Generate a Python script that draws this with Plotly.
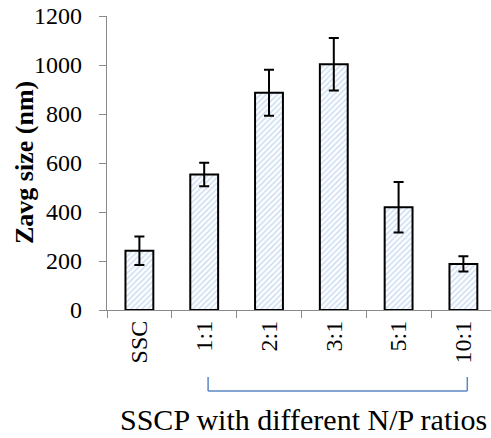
import plotly.graph_objects as go

categories = ["SSC", "1:1", "2:1", "3:1", "5:1", "10:1"]
values = [242, 553, 887, 1003, 419, 188]
errors = [58, 48, 94, 107, 103, 31]
y_ticks = [0, 200, 400, 600, 800, 1000, 1200]

FONT = "Liberation Serif, Times New Roman, serif"
AXIS_GRAY = "#8a8a8a"

fig = go.Figure()
fig.add_trace(go.Bar(
    x=categories,
    y=values,
    width=0.43,
    marker=dict(
        color="white",
        line=dict(color="black", width=2),
        pattern=dict(shape="/", fgcolor="#9dbde6", bgcolor="white", size=4, solidity=0.4),
    ),
    error_y=dict(type="data", array=errors, visible=True, color="black", thickness=2, width=5),
))

W, H = 491, 438
L, T, B = 107, 16, 128
plot_h = H - T - B
plot_w = W - L
cat_w = 64.8

fig.update_layout(
    width=W, height=H,
    margin=dict(l=L, r=0, t=T, b=B, pad=0),
    paper_bgcolor="white", plot_bgcolor="white",
    showlegend=False,
    font=dict(family=FONT, color="black", size=24),
    xaxis=dict(
        type="category",
        range=[-0.5, -0.5 + plot_w / cat_w],
        showline=True, linecolor=AXIS_GRAY, linewidth=1.3,
        ticks="outside", tickson="boundaries", ticklen=7, tickcolor=AXIS_GRAY, tickwidth=1.3,
        tickangle=-90, tickfont=dict(family=FONT, size=24, color="black"),
        showgrid=False, zeroline=False,
    ),
    yaxis=dict(
        range=[0, 1200], tickvals=y_ticks,
        showline=True, linecolor=AXIS_GRAY, linewidth=1.3,
        ticks="outside", ticklen=7, tickcolor=AXIS_GRAY, tickwidth=1.3,
        tickfont=dict(family=FONT, size=24, color="black"),
        ticklabelstandoff=12,
        showgrid=False, zeroline=False,
    ),
)

# y-axis title
fig.add_annotation(
    text="<b>Zavg size (nm)</b>", textangle=-90,
    xref="paper", yref="paper",
    x=(24 - L) / plot_w, y=0.5, xanchor="center", yanchor="middle",
    showarrow=False, font=dict(family=FONT, size=26, color="black"),
)

# bracket under N/P ratio categories
y_top = -(377 - (T + plot_h)) / plot_h
y_bot = -(391 - (T + plot_h)) / plot_h
x1, x2 = 1.06, 5.06
fig.add_shape(type="line", xref="x", yref="paper", x0=x1, x1=x1, y0=y_top, y1=y_bot,
              line=dict(color="#5b87c5", width=1.5))
fig.add_shape(type="line", xref="x", yref="paper", x0=x1, x1=x2, y0=y_bot, y1=y_bot,
              line=dict(color="#5b87c5", width=1.5))
fig.add_shape(type="line", xref="x", yref="paper", x0=x2, x1=x2, y0=y_bot, y1=y_top,
              line=dict(color="#5b87c5", width=1.5))

fig.add_annotation(
    text="SSCP with different N/P ratios",
    xref="paper", yref="paper",
    x=(303 - L) / plot_w, y=-(419 - (T + plot_h)) / plot_h,
    xanchor="center", yanchor="middle",
    showarrow=False, font=dict(family=FONT, size=30, color="black"),
)

fig.write_html("out.html")
